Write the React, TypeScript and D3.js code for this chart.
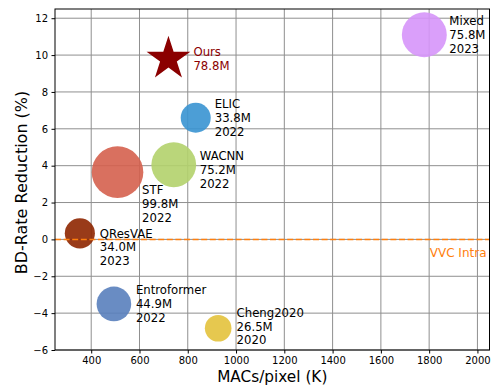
import React, { useEffect, useRef } from 'react';
import * as d3 from 'd3';

// models, compute cost and BD-rate gain vs VVC intra
const models = ['Ours', 'Mixed', 'ELIC', 'WACNN', 'STF', 'QResVAE', 'Entroformer', 'Cheng2020'];
const macs = [720, 1780, 833, 742, 509, 353, 494, 926];
const bdRate = [9.8, 11.1, 6.6, 4.05, 3.65, 0.33, -3.5, -4.82];
const params = [78.8, 75.8, 33.8, 75.2, 99.8, 34.0, 44.9, 26.5];
const years = ['', '2023', '2022', '2022', '2022', '2023', '2022', '2020'];
const colors = ['#8b0000', '#d695f9', '#3894d1', '#b2d16b', '#d5604e', '#8e2600', '#597fbd', '#e3c23c'];

const xTicks = [400, 600, 800, 1000, 1200, 1400, 1600, 1800, 2000];
const yTicks = [-6, -4, -2, 0, 2, 4, 6, 8, 10, 12];
const vvcLevel = 0;

// label placement relative to each marker (px): right shift, shift of middle line
const labelDx = [25, 25, 19, 26, 24.6, 20, 22, 18.4];
const labelDy = [0, 0, 0, 5, 31.7, 14, 0, -1.6];

const W = 500;
const H = 389;
const margin = { left: 55, right: 10.5, top: 9, bottom: 39 };
const font = '"DejaVu Sans", sans-serif';

export default function App() {
  const ref = useRef<SVGSVGElement>(null);

  useEffect(() => {
    const svg = d3.select(ref.current);
    svg.selectAll('*').remove();

    const x = d3.scaleLinear().domain([250, 2050]).range([margin.left, W - margin.right]);
    const y = d3.scaleLinear().domain([-6, 12.5]).range([H - margin.bottom, margin.top]);
    const r = d3.scaleSqrt().domain([0, 99.8]).range([0, 25.8]);
    const x0 = x.range()[0], x1 = x.range()[1];
    const y0 = y.range()[0], y1 = y.range()[1];

    svg.append('rect').attr('width', W).attr('height', H).attr('fill', 'white');

    // grid
    const grid = svg.append('g').attr('stroke', '#8f8f8f').attr('stroke-width', 1);
    grid.selectAll('.gx').data(xTicks).join('line')
      .attr('x1', d => x(d)).attr('x2', d => x(d))
      .attr('y1', y0).attr('y2', y1);
    grid.selectAll('.gy').data(yTicks).join('line')
      .attr('x1', x0).attr('x2', x1)
      .attr('y1', d => y(d)).attr('y2', d => y(d));

    const idx = d3.range(models.length);

    // bubbles (all but ours)
    svg.append('g').selectAll('circle').data(idx.filter(i => i > 0)).join('circle')
      .attr('cx', i => x(macs[i])).attr('cy', i => y(bdRate[i]))
      .attr('r', i => r(params[i]))
      .attr('fill', i => colors[i]).attr('fill-opacity', 0.9);

    // VVC reference
    svg.append('line')
      .attr('x1', x0).attr('x2', x1)
      .attr('y1', y(vvcLevel)).attr('y2', y(vvcLevel))
      .attr('stroke', '#ff7f0e').attr('stroke-width', 1.5)
      .attr('stroke-dasharray', '6,2.6');
    svg.append('text')
      .attr('x', x1 - 3).attr('y', y(vvcLevel) + 14)
      .attr('text-anchor', 'end').attr('dominant-baseline', 'central')
      .attr('font-family', font).attr('font-size', 12)
      .attr('fill', '#ff7f0e')
      .text('VVC Intra');

    // ours as a star
    svg.append('path')
      .attr('d', d3.symbol(d3.symbolStar, 594)())
      .attr('transform', `translate(${x(macs[0])},${y(bdRate[0])})`)
      .attr('fill', colors[0]);

    // labels
    const labels = svg.append('g').attr('font-family', font).attr('font-size', 11.7);
    idx.forEach(i => {
      const lines = [models[i], `${params[i].toFixed(1)}M`];
      if (years[i]) lines.push(years[i]);
      const lh = 13.8;
      const top = y(bdRate[i]) + labelDy[i] - ((lines.length - 1) / 2) * lh;
      const t = labels.append('text')
        .attr('fill', i === 0 ? colors[0] : 'black')
        .attr('dominant-baseline', 'central');
      lines.forEach((s, k) => {
        t.append('tspan')
          .attr('x', x(macs[i]) + labelDx[i])
          .attr('y', top + k * lh)
          .text(s);
      });
    });

    // axes
    const fmt = (d: d3.NumberValue) => d3.format('d')(+d).replace('-', '\u2212');
    const gx = svg.append('g')
      .attr('transform', `translate(0,${y0})`)
      .call(d3.axisBottom(x).tickValues(xTicks).tickFormat(fmt).tickSize(3.5).tickPadding(3.5).tickSizeOuter(0));
    const gy = svg.append('g')
      .attr('transform', `translate(${x0},0)`)
      .call(d3.axisLeft(y).tickValues(yTicks).tickFormat(fmt).tickSize(3.5).tickPadding(3.5).tickSizeOuter(0));
    [gx, gy].forEach(g => {
      g.select('.domain').remove();
      g.selectAll('text').attr('font-family', font).attr('font-size', 10).attr('fill', 'black');
      g.selectAll('line').attr('stroke', 'black');
    });

    // frame
    svg.append('rect')
      .attr('x', x0).attr('y', y1)
      .attr('width', x1 - x0).attr('height', y0 - y1)
      .attr('fill', 'none').attr('stroke', 'black').attr('stroke-width', 1);

    svg.append('text')
      .attr('x', (x0 + x1) / 2).attr('y', 382)
      .attr('text-anchor', 'middle')
      .attr('font-family', font).attr('font-size', 15.3)
      .text('MACs/pixel (K)');
    svg.append('text')
      .attr('transform', `translate(21.5,${(y0 + y1) / 2 + 3}) rotate(-90)`)
      .attr('text-anchor', 'middle').attr('dominant-baseline', 'central')
      .attr('font-family', font).attr('font-size', 16)
      .text('BD-Rate Reduction (%)');
  }, []);

  return (
    <div style={{ position: 'fixed', left: 0, top: 0 }}>
      <svg ref={ref} width={W} height={H} style={{ display: 'block' }} />
    </div>
  );
}
